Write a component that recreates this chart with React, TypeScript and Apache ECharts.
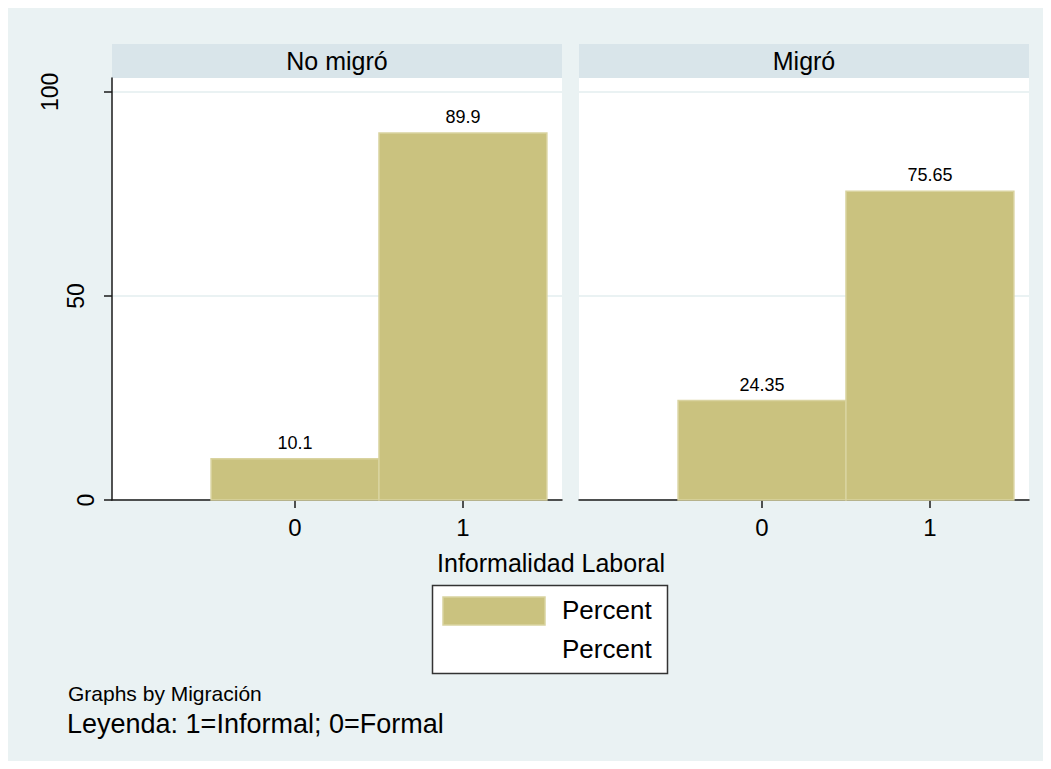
import React, { useEffect, useRef } from "react";
import * as echarts from "echarts";

const panels = ["No migró", "Migró"];
const categories = [0, 1];
const noMigroValues = [10.1, 89.9];
const migroValues = [24.35, 75.65];
const yTicks = [0, 50, 100];
const xTicks = [0, 1];
const legendLabels = ["Percent", "Percent"];
const xTitle = "Informalidad Laboral";
const noteBy = "Graphs by Migración";
const noteLegend = "Leyenda: 1=Informal; 0=Formal";

const FONT = "'Liberation Sans', Arial, sans-serif";
const BAR_FILL = "#CAC27F";
const BAR_STROKE = "#D9D3A0";

export default function App() {
  const ref = useRef<HTMLDivElement>(null);
  useEffect(() => {
    if (!ref.current) return;
    const chart = echarts.init(ref.current, null, { renderer: "svg" });
    const gridLeft = [104, 571];
    const gridTop = 70;
    const gridW = 450;
    const gridH = 422;
    const seriesData = [noMigroValues, migroValues];

    const renderItem = (params: any, api: any) => {
      const x = api.value(0);
      const y = api.value(1);
      const p0 = api.coord([x - 0.5, y]);
      const p1 = api.coord([x + 0.5, 0]);
      return {
        type: "group",
        children: [
          {
            type: "rect",
            shape: { x: p0[0], y: p0[1], width: p1[0] - p0[0], height: p1[1] - p0[1] },
            style: { fill: BAR_FILL, stroke: BAR_STROKE, lineWidth: 1.5 },
          },
          {
            type: "text",
            x: (p0[0] + p1[0]) / 2,
            y: p0[1] - 7,
            style: {
              text: String(y),
              fill: "#000",
              font: `18px ${FONT}`,
              align: "center",
              verticalAlign: "bottom",
            },
          },
        ],
      };
    };

    const labelRich: any = {
      l0: { padding: [0, 0, 0, 0], fontSize: 23, fontFamily: FONT, color: "#000" },
      l50: { padding: [0, 0, 10, 0], fontSize: 23, fontFamily: FONT, color: "#000" },
      l100: { padding: [0, 0, 36, 0], fontSize: 23, fontFamily: FONT, color: "#000" },
    };

    const option: any = {
      animation: false,
      backgroundColor: "#EAF2F3",
      grid: gridLeft.map((l) => ({
        left: l,
        top: gridTop,
        width: gridW,
        height: gridH,
        show: true,
        backgroundColor: "#FFFFFF",
        borderWidth: 0,
      })),
      xAxis: gridLeft.map((_, i) => ({
        type: "value",
        gridIndex: i,
        min: -1.09,
        max: 1.59,
        axisLine: { show: true, onZero: false, lineStyle: { color: "#1a1a1a", width: 1.5 } },
        axisTick: { show: true, length: 8, customValues: xTicks, lineStyle: { color: "#1a1a1a", width: 1.5 } },
        axisLabel: { show: true, customValues: xTicks, margin: 15, fontSize: 24, color: "#000", fontFamily: FONT },
        splitLine: { show: false },
      })),
      yAxis: gridLeft.map((_, i) => ({
        type: "value",
        gridIndex: i,
        min: 0,
        max: 103.4,
        axisLine: { show: i === 0, onZero: false, lineStyle: { color: "#1a1a1a", width: 1.5 } },
        axisTick: { show: i === 0, length: 8, customValues: yTicks, lineStyle: { color: "#1a1a1a", width: 1.5 } },
        axisLabel: {
          show: i === 0,
          customValues: yTicks,
          rotate: 90,
          margin: 15,
          fontSize: 23,
          color: "#000",
          fontFamily: FONT,
          formatter: (v: number) => `{l${v}|${v}}`,
          rich: labelRich,
        },
        splitLine: { show: true, lineStyle: { color: "#EAF2F3", width: 2 } },
      })),
      series: seriesData.map((vals, i) => ({
        type: "custom",
        xAxisIndex: i,
        yAxisIndex: i,
        renderItem,
        data: categories.map((c, j) => [c, vals[j]]),
        clip: false,
      })),
      graphic: [
        ...gridLeft.map((l, i) => ({
          type: "group",
          children: [
            { type: "rect", shape: { x: l, y: 36, width: gridW, height: 34 }, style: { fill: "#D9E5EA" } },
            {
              type: "text",
              x: l + gridW / 2,
              y: 53,
              style: { text: panels[i], fill: "#000", font: `25px ${FONT}`, align: "center", verticalAlign: "middle" },
            },
          ],
        })),
        {
          type: "text",
          x: 543,
          y: 555,
          style: { text: xTitle, fill: "#000", font: `25px ${FONT}`, align: "center", verticalAlign: "middle" },
        },
        {
          type: "rect",
          shape: { x: 424.5, y: 577.5, width: 235, height: 88 },
          style: { fill: "#FFFFFF", stroke: "#333", lineWidth: 1.5 },
        },
        {
          type: "rect",
          shape: { x: 435, y: 589, width: 102, height: 28 },
          style: { fill: BAR_FILL, stroke: BAR_STROKE, lineWidth: 1.5 },
        },
        {
          type: "text",
          x: 554,
          y: 602,
          style: { text: legendLabels[0], fill: "#000", font: `26px ${FONT}`, align: "left", verticalAlign: "middle" },
        },
        {
          type: "text",
          x: 554,
          y: 641,
          style: { text: legendLabels[1], fill: "#000", font: `26px ${FONT}`, align: "left", verticalAlign: "middle" },
        },
        {
          type: "text",
          x: 60,
          y: 685,
          style: { text: noteBy, fill: "#000", font: `21px ${FONT}`, align: "left", verticalAlign: "middle" },
        },
        {
          type: "text",
          x: 59,
          y: 716,
          style: { text: noteLegend, fill: "#000", font: `27px ${FONT}`, align: "left", verticalAlign: "middle" },
        },
      ],
    };
    chart.setOption(option);
    return () => chart.dispose();
  }, []);
  return <div ref={ref} style={{ width: 1035, height: 753 }} />;
}
